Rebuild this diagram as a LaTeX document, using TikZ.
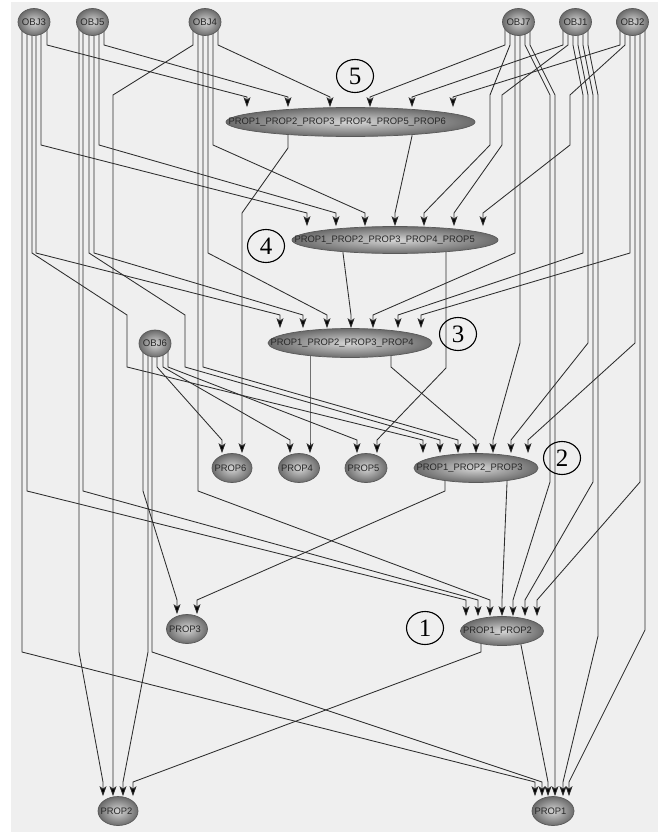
\documentclass[tikz,border=0pt]{standalone}
\usepackage{fontspec}
\setmainfont{Liberation Sans}
\newfontfamily\numfont{Liberation Serif}
\usetikzlibrary{shapes.geometric,arrows.meta}
\definecolor{bgc}{RGB}{239,239,239}
\definecolor{edgec}{RGB}{45,45,45}
\definecolor{txtc}{RGB}{40,40,40}
\pgfdeclarelayer{back}
\pgfdeclarelayer{edges}
\pgfsetlayers{back,edges,main}
\newcommand\lblL[2]{\makebox[0pt]{\makebox[#1pt][l]{\hspace{2.5pt}#2}}}
\begin{document}
\begin{tikzpicture}[x=1pt,y=-1pt,
  nd/.style={ellipse, draw=black!65, line width=0.7, inner sep=0, shade, shading=radial,
             inner color=black!16, outer color=black!58, text=txtc,
             font=\fontsize{9.4}{9.4}\selectfont},
  objn/.style={nd, minimum width=32, minimum height=27, font=\fontsize{9.6}{9.6}\selectfont},
  cpt/.style={nd, minimum height=29},
  num/.style={ellipse, draw=black, line width=1.1, minimum width=37, minimum height=33,
              inner sep=0, font=\numfont\fontsize{25}{25}\selectfont},
  E/.style={draw=edgec, line width=0.85, -{Stealth[length=10,width=7,inset=2.5,fill=black]}},
]
\useasboundingbox (0,0) rectangle (658,832);
\begin{pgfonlayer}{back}
  \fill[white] (0,0) rectangle (658,832);
  \fill[bgc] (11,2) rectangle (658,832);
\end{pgfonlayer}

% object nodes
\node[objn] (o3) at (34,22) {\makebox[0pt]{OBJ3}};
\node[objn] (o5) at (92.5,22) {\makebox[0pt]{OBJ5}};
\node[objn] (o4) at (205,22) {\makebox[0pt]{OBJ4}};
\node[objn] (o7) at (518.5,22) {\makebox[0pt]{OBJ7}};
\node[objn] (o1) at (575.5,22) {\makebox[0pt]{OBJ1}};
\node[objn] (o2) at (632.5,22) {\makebox[0pt]{OBJ2}};
\node[objn] (o6) at (155,343.5) {\makebox[0pt]{OBJ6}};

% concept nodes
\node[cpt, minimum width=249] (c6) at (350.5,122) {\lblL{249}{PROP1\_PROP2\_PROP3\_PROP4\_PROP5\_PROP6}};
\node[cpt, minimum width=206, minimum height=27] (c5) at (395,240) {\lblL{206}{PROP1\_PROP2\_PROP3\_PROP4\_PROP5}};
\node[cpt, minimum width=164] (c4) at (350,343) {\lblL{164}{PROP1\_PROP2\_PROP3\_PROP4}};
\node[cpt, minimum width=124] (c3) at (476,468) {\lblL{124}{PROP1\_PROP2\_PROP3}};
\node[cpt, minimum width=83] (c2) at (502,631) {\lblL{83}{PROP1\_PROP2}};
\node[cpt, minimum width=40] (p6) at (232,468) {\lblL{40}{PROP6}};
\node[cpt, minimum width=41] (p4) at (299,468) {\lblL{41}{PROP4}};
\node[cpt, minimum width=42] (p5) at (366,468) {\lblL{42}{PROP5}};
\node[cpt, minimum width=41] (p3) at (187,629) {\lblL{41}{PROP3}};
\node[cpt, minimum width=40] (p2) at (118,811) {\lblL{40}{PROP2}};
\node[cpt, minimum width=42] (p1) at (553,811) {\lblL{42}{PROP1}};

% circled numbers
\node[num] (n5) at (355,76) {5};
\node[num] (n4) at (266,246) {4};
\node[num] (n3) at (458,334) {3};
\node[num] (n2) at (562,458) {2};
\node[num] (n1) at (425,628) {1};

\begin{pgfonlayer}{edges}
% OBJ3
\draw[E] (o3.center -| 47,0) -- (47,45) -- (247,97) -- (247,97 |- c6.north);
\draw[E] (o3.center -| 41,0) -- (41,145) -- (307,213) -- (307,213 |- c5.north);
\draw[E] (o3.center -| 36,0) -- (36,253) -- (280,315) -- (280,315 |- c4.north);
\draw[E] (o3.center -| 32,0) -- (32,253) -- (127,315) -- (127,367) -- (423,440) -- (423,440 |- c3.north);
\draw[E] (o3.center -| 27,0) -- (27,491) -- (466,600) -- (466,600 |- c2.north);
\draw[E] (o3.center -| 22,0) -- (22,652) -- (535,782) -- (535,782 |- p1.north);
% OBJ5
\draw[E] (o5.center -| 104,0) -- (104,45) -- (288,97) -- (288,97 |- c6.north);
\draw[E] (o5.center -| 99,0) -- (99,145) -- (336,213) -- (336,213 |- c5.north);
\draw[E] (o5.center -| 94,0) -- (94,253) -- (303,315) -- (303,315 |- c4.north);
\draw[E] (o5.center -| 89,0) -- (89,253) -- (185,315) -- (185,367) -- (440,440) -- (440,440 |- c3.north);
\draw[E] (o5.center -| 83,0) -- (83,491) -- (478,600) -- (478,600 |- c2.north);
\draw[E] (o5.center -| 79,0) -- (79,652) -- (103,782) -- (103,782 |- p2.north);
% OBJ4
\draw[E] (o4.center -| 218,0) -- (218,45) -- (330,97) -- (330,97 |- c6.north);
\draw[E] (o4.center -| 213,0) -- (213,145) -- (365,213) -- (365,213 |- c5.north);
\draw[E] (o4.center -| 208,0) -- (208,253) -- (327,315) -- (327,315 |- c4.north);
\draw[E] (o4.center -| 203,0) -- (203,367) -- (458,440) -- (458,440 |- c3.north);
\draw[E] (o4.center -| 198,0) -- (198,491) -- (490,600) -- (490,600 |- c2.north);
\draw[E] (o4.center -| 193,0) -- (193,45) -- (113,95) -- (113,95 |- p2.north);
% OBJ7
\draw[E] (o7.center -| 505,0) -- (505,45) -- (370,97) -- (370,97 |- c6.north);
\draw[E] (o7.center -| 510,0) -- (510,45) -- (490,95) -- (490,145) -- (424,213) -- (424,213 |- c5.north);
\draw[E] (o7.center -| 515,0) -- (515,253) -- (373,315) -- (373,315 |- c4.north);
\draw[E] (o7.center -| 520,0) -- (520,343) -- (493,440) -- (493,440 |- c3.north);
\draw[E] (o7.center -| 525,0) -- (525,45) -- (550,95) -- (550,482) -- (513,600) -- (513,600 |- c2.north);
\draw[E] (o7.center -| 530,0) -- (530,45) -- (555,95) -- (555,95 |- p1.north);
% OBJ1
\draw[E] (o1.center -| 563,0) -- (563,45) -- (412,97) -- (412,97 |- c6.north);
\draw[E] (o1.center -| 568,0) -- (568,45) -- (502,95) -- (502,145) -- (454,213) -- (454,213 |- c5.north);
\draw[E] (o1.center -| 573,0) -- (573,45) -- (583,95) -- (583,253) -- (398,315) -- (398,315 |- c4.north);
\draw[E] (o1.center -| 578,0) -- (578,45) -- (588,95) -- (588,343) -- (511,440) -- (511,440 |- c3.north);
\draw[E] (o1.center -| 583,0) -- (583,45) -- (593,95) -- (593,482) -- (525,600) -- (525,600 |- c2.north);
\draw[E] (o1.center -| 588,0) -- (588,45) -- (598,95) -- (598,636) -- (563,782) -- (563,782 |- p1.north);
% OBJ2
\draw[E] (o2.center -| 620,0) -- (620,45) -- (453,97) -- (453,97 |- c6.north);
\draw[E] (o2.center -| 625,0) -- (625,45) -- (570,95) -- (570,145) -- (483,213) -- (483,213 |- c5.north);
\draw[E] (o2.center -| 630,0) -- (630,253) -- (421,315) -- (421,315 |- c4.north);
\draw[E] (o2.center -| 635,0) -- (635,343) -- (528,440) -- (528,440 |- c3.north);
\draw[E] (o2.center -| 640,0) -- (640,482) -- (537,600) -- (537,600 |- c2.north);
\draw[E] (o2.center -| 645,0) -- (645,630) -- (569,782) -- (569,782 |- p1.north);
% OBJ6
\draw[E] (o6.center -| 143,0) -- (143,491) -- (177,600) -- (177,600 |- p3.north);
\draw[E] (o6.center -| 148,0) -- (148,652) -- (123,782) -- (123,782 |- p2.north);
\draw[E] (o6.center -| 152,0) -- (152,652) -- (542,782) -- (542,782 |- p1.north);
\draw[E] (o6.center -| 157,0) -- (157,367) -- (222,440) -- (222,440 |- p6.north);
\draw[E] (o6.center -| 163,0) -- (163,367) -- (290,440) -- (290,440 |- p4.north);
\draw[E] (o6.center -| 168,0) -- (168,367) -- (357,440) -- (357,440 |- p5.north);
% concept to concept / property
\draw[E] (c6.center -| 288,0) -- (288,148) -- (242,213) -- (242,213 |- p6.north);
\draw[E] (c6.center -| 412,0) -- (412,136) -- (395,213) -- (395,213 |- c5.north);
\draw[E] (c5.center -| 343,0) -- (343,253) -- (351,315) -- (351,315 |- c4.north);
\draw[E] (c5.center -| 446,0) -- (446,368) -- (377,440) -- (377,440 |- p5.north);
\draw[E] (c4.center -| 310,0) -- (310,440) -- (310,440 |- p4.north);
\draw[E] (c4.center -| 391,0) -- (391,367) -- (476,440) -- (476,440 |- c3.north);
\draw[E] (c3.center -| 445,0) -- (445,491) -- (197,600) -- (197,600 |- p3.north);
\draw[E] (c3.center -| 507,0) -- (507,483) -- (502,600) -- (502,600 |- c2.north);
\draw[E] (c2.center -| 481,0) -- (481,652) -- (133,782) -- (133,782 |- p2.north);
\draw[E] (c2.center -| 521,0) -- (521,645) -- (548,782) -- (548,782 |- p1.north);
\end{pgfonlayer}
\end{tikzpicture}
\end{document}
